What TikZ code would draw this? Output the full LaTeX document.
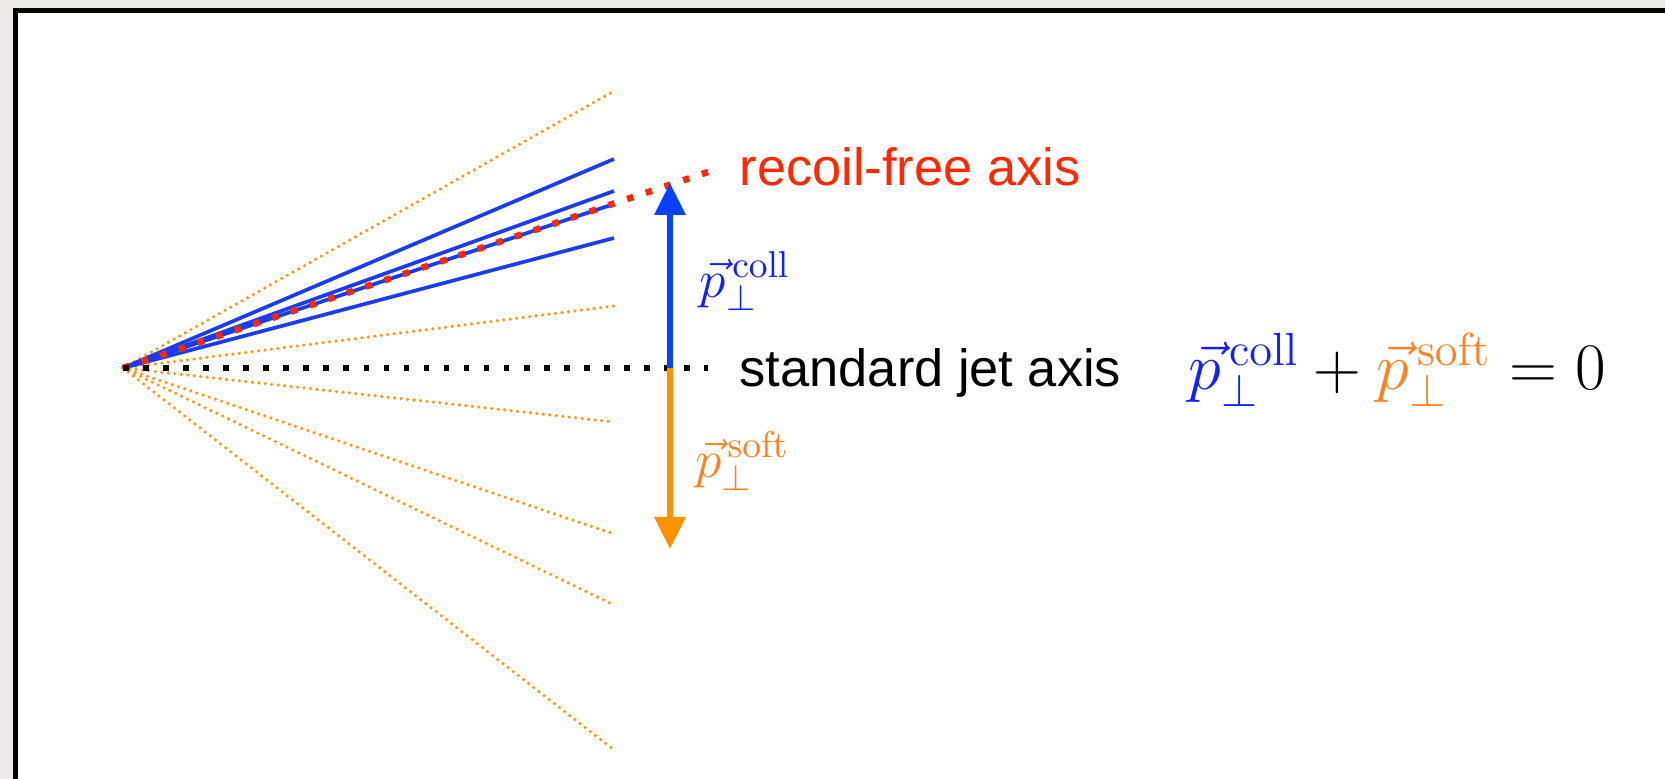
\RequirePackage{fix-cm}
\documentclass[tikz,border=0pt]{standalone}
\usepackage[no-math]{fontspec}
\setmainfont{Liberation Sans}
\usetikzlibrary{arrows.meta}
\definecolor{bggrey}{RGB}{236,235,231}
\definecolor{jorange}{RGB}{255,150,20}
\definecolor{jblue}{RGB}{25,60,240}
\definecolor{ablue}{RGB}{5,65,255}
\definecolor{aorange}{RGB}{255,145,0}
\definecolor{jred}{RGB}{255,40,0}
\definecolor{mblue}{RGB}{20,30,255}
\definecolor{morange}{RGB}{255,130,30}
\tikzset{
  softline/.style={draw=jorange, line width=1pt, line cap=round, dash pattern=on 0pt off 1.85pt},
  collline/.style={draw=jblue, line width=1.05pt},
  recoilline/.style={draw=jred, line width=1.85pt, dash pattern=on 1.85pt off 3.75pt},
  stdline/.style={draw=black, line width=1.6pt, dash pattern=on 1.6pt off 4.1pt},
  vecarrow/.style={line width=1.7pt, -{Triangle[length=9.1pt,width=8.6pt]}},
  bigtext/.style={font=\fontsize{14.9}{18}\selectfont, inner sep=0pt},
  lbl/.style={font=\fontsize{15.2}{18}\selectfont, inner sep=0pt},
  eqn/.style={font=\fontsize{18.9}{23}\selectfont, inner sep=0pt}
}
\begin{document}
\begin{tikzpicture}[x=0.01cm,y=-0.01cm]
\useasboundingbox (0,0) rectangle (1665,779);
\fill[bggrey] (0,0) rectangle (1665,779);
\fill[white] (13,8) rectangle (1665,779);
\draw[line width=1.42pt] (15.5,779) -- (15.5,10.5) -- (1665,10.5);

\coordinate (O) at (123,368);
% soft (orange dotted) lines
\foreach \yy [count=\i] in {91,306,422,534,605,750}{
  \coordinate (s\i) at (614,\yy);
  \draw[softline] (O) -- (s\i);
}
% collinear (blue) lines
\foreach \yy [count=\i] in {159,191,204,238}{
  \coordinate (c\i) at (614,\yy);
  \draw[collline] (O) -- (c\i);
}
% axes
\coordinate (R) at (711,171);
\coordinate (S) at (708,368);
\draw[recoilline] (O) -- (R);
\draw[stdline] (O) -- (S);

% arrows
\coordinate (B) at (670,368);
\coordinate (Bt) at (670,183);
\coordinate (Ot) at (670,549);
\draw[vecarrow, ablue] (B) -- (Bt);
\draw[vecarrow, aorange] (B) -- (Ot);

% labels
\node[bigtext, text=jred, anchor=base west] (rf) at (739,186) {recoil-free axis};
\node[bigtext, text=black, anchor=base west] (sj) at (739,387) {standard jet axis};
\node[lbl, text=mblue] (pc) at (745,281) {$\vec p_\perp^{\,\mathrm{coll}}$};
\node[lbl, text=morange] (ps) at (742,461) {$\vec p_\perp^{\,\mathrm{soft}}$};
\node[eqn, anchor=base west] (eq) at (1188,390)
  {$\textcolor{mblue}{\vec p_\perp^{\,\mathrm{coll}}}+\textcolor{morange}{\vec p_\perp^{\,\mathrm{soft}}}=0$};
\end{tikzpicture}
\end{document}
